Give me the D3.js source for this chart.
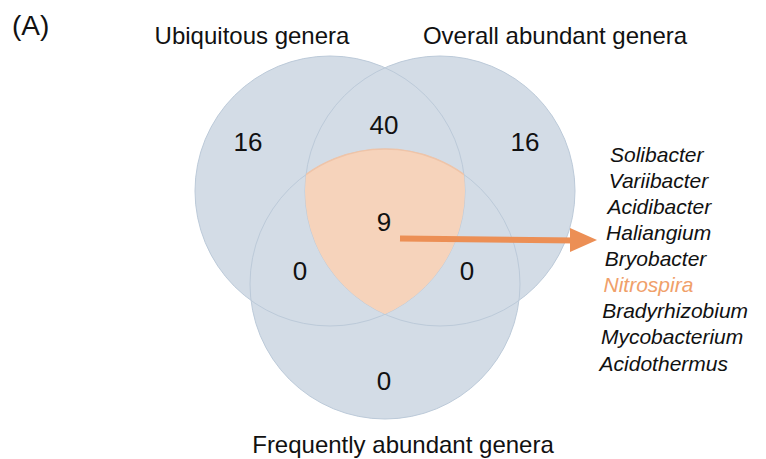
<!DOCTYPE html>
<html>
<head>
<meta charset="utf-8">
<script src="https://cdn.jsdelivr.net/npm/d3@7"></script>
<style>
  body { margin: 0; background: #fff; }
  svg { display: block; font-family: "Liberation Sans", Arial, sans-serif; }
</style>
</head>
<body>
<div id="chart"></div>
<script>
// sets and region counts
const setNames = ["Ubiquitous genera", "Overall abundant genera", "Frequently abundant genera"];
const regionKeys = ["U", "O", "UO", "UOF", "UF", "OF", "F"];
const regionCounts = [16, 16, 40, 9, 0, 0, 0];
const sharedGenera = ["Solibacter", "Variibacter", "Acidibacter", "Haliangium", "Bryobacter",
    "Nitrospira", "Bradyrhizobium", "Mycobacterium", "Acidothermus"];
const highlighted = ["Nitrospira"];

const width = 766, height = 459;
const svg = d3.select("#chart").append("svg")
    .attr("width", width)
    .attr("height", height);

// circle layout (pixel space)
const r = 135;
const circles = [
    {id: "U", cx: 330, cy: 191},
    {id: "O", cx: 440, cy: 191},
    {id: "F", cx: 385, cy: 284}
];

const fillBlue = "#d3dce6";
const strokeBlue = "#bccad9";
const peach = "#f6d3bb";
const orange = "#ec8f55";

const defs = svg.append("defs");
circles.forEach(c => {
    defs.append("clipPath").attr("id", "clip-" + c.id)
        .append("circle").attr("cx", c.cx).attr("cy", c.cy).attr("r", r);
});

svg.selectAll("circle.fill")
    .data(circles)
    .enter().append("circle")
    .attr("class", "fill")
    .attr("cx", d => d.cx).attr("cy", d => d.cy).attr("r", r)
    .attr("fill", fillBlue);

svg.selectAll("circle.edge")
    .data(circles)
    .enter().append("circle")
    .attr("class", "edge")
    .attr("cx", d => d.cx).attr("cy", d => d.cy).attr("r", r)
    .attr("fill", "none")
    .attr("stroke", strokeBlue)
    .attr("stroke-width", 1);

// triple intersection
svg.append("g").attr("clip-path", "url(#clip-U)")
  .append("g").attr("clip-path", "url(#clip-O)")
  .append("circle")
    .attr("cx", circles[2].cx).attr("cy", circles[2].cy).attr("r", r)
    .attr("fill", peach)
    .attr("stroke", "#efc4a8")
    .attr("stroke-width", 1.5);

// count label positions, derived from circle centres
const U = circles[0], O = circles[1], F = circles[2];
const mid = (U.cx + O.cx) / 2;
const regionPos = {
    U:   [U.cx - 82, U.cy - 49],
    O:   [O.cx + 85, O.cy - 49],
    UO:  [mid - 1, U.cy - 66],
    UOF: [mid - 1, U.cy + 31],
    UF:  [U.cx - 30, F.cy - 13],
    OF:  [O.cx + 27, F.cy - 13],
    F:   [F.cx - 1, F.cy + 97]
};

svg.selectAll("text.count")
    .data(regionKeys.map((k, i) => ({key: k, n: regionCounts[i]})))
    .enter().append("text")
    .attr("class", "count")
    .attr("x", d => regionPos[d.key][0])
    .attr("y", d => regionPos[d.key][1])
    .attr("text-anchor", "middle")
    .attr("dominant-baseline", "central")
    .attr("font-size", 26)
    .attr("fill", "#111")
    .text(d => d.n);

// set names
const namePos = [[252, 44], [555, 44], [403, 453]];
svg.selectAll("text.setname")
    .data(setNames)
    .enter().append("text")
    .attr("class", "setname")
    .attr("x", (d, i) => namePos[i][0])
    .attr("y", (d, i) => namePos[i][1])
    .attr("text-anchor", "middle")
    .attr("font-size", 24)
    .attr("fill", "#111")
    .text(d => d);

svg.append("text")
    .attr("x", 12).attr("y", 35)
    .attr("font-size", 28)
    .attr("fill", "#111")
    .text("(A)");

// arrow to the genera list
svg.append("line")
    .attr("x1", 400).attr("y1", 238.5)
    .attr("x2", 576).attr("y2", 240.5)
    .attr("stroke", orange)
    .attr("stroke-width", 6);
svg.append("path")
    .attr("d", d3.line()([[570, 228], [597, 240], [570, 252]]))
    .attr("fill", orange);

// genera list
const listY = d3.scalePoint()
    .domain(sharedGenera)
    .range([154, 363]);

svg.selectAll("text.genus")
    .data(sharedGenera)
    .enter().append("text")
    .attr("class", "genus")
    .attr("x", (d, i) => 610 - i * 1.3)
    .attr("y", d => listY(d))
    .attr("dominant-baseline", "central")
    .attr("font-size", 21)
    .attr("font-style", "italic")
    .attr("fill", d => highlighted.includes(d) ? "#f0a06a" : "#111")
    .text(d => d);
</script>
</body>
</html>
